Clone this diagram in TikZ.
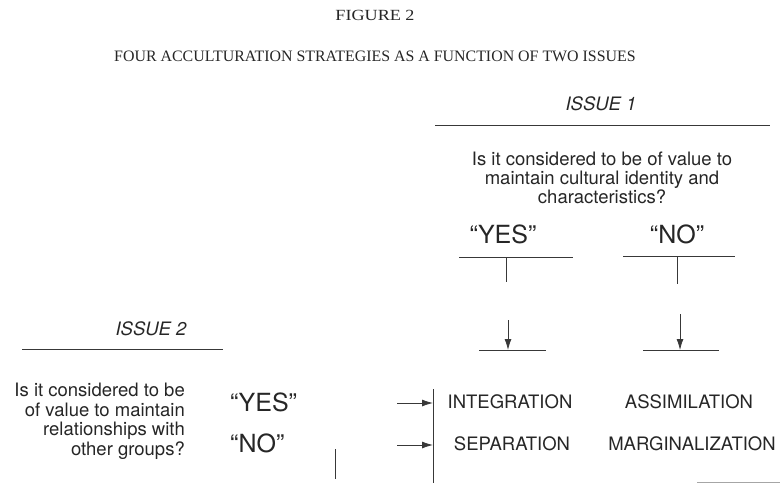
\documentclass[tikz,border=0pt]{standalone}
\usepackage{fontspec}
\setmainfont{TeX Gyre Heros}
\newfontfamily\titlefont{Liberation Serif}
\newfontfamily\figfont[FakeStretch=1.17]{Liberation Serif}
\usetikzlibrary{arrows.meta}
\begin{document}
\begin{tikzpicture}[x=1pt,y=1pt,
  lbl/.style={inner sep=0pt, anchor=base, text=black!85},
  body/.style={lbl, font=\fontsize{18.5}{19.5}\selectfont},
  big/.style={lbl, font=\fontsize{25}{28}\selectfont},
  ttl/.style={lbl, font=\titlefont\fontsize{15.9}{18}\selectfont},
  rule/.style={line width=0.8pt, draw=black!78},
  arr/.style={rule, -{Latex[length=11pt,width=7pt]}},
]
\useasboundingbox (0,0) rectangle (782,483);
% titles
\node[lbl, font=\figfont\fontsize{15.5}{18}\selectfont] (fig) at (375,462) {FIGURE 2};
\node[ttl] (sub) at (375,421) {FOUR ACCULTURATION STRATEGIES AS A FUNCTION OF TWO ISSUES};
% issue 1
\node[body, font=\itshape\fontsize{18.5}{19}\selectfont] (iss1) at (601,372) {ISSUE 1};
\coordinate (i1a) at (435,358); \coordinate (i1b) at (770,358);
\draw[rule] (i1a) -- (i1b);
\node[body, anchor=north, align=center, font=\fontsize{18.5}{19}\selectfont] (q1) at (602,331)
  {Is it considered to be of value to\\maintain cultural identity and\\characteristics?};
\node[big] (yes1) at (503,240) {``YES''};
\node[big] (no1) at (677,240) {``NO''};
% YES column
\coordinate (ya) at (459,226); \coordinate (yb) at (573,226);
\draw[rule] (ya) -- (yb);
\coordinate (ys0) at (506,226); \coordinate (ys1) at (506,201);
\draw[rule] (ys0) -- (ys1);
\coordinate (yt) at (508,163); \coordinate (yla) at (479,133); \coordinate (ylb) at (546,133);
\coordinate (ylm) at (508,133);
\draw[rule] (yla) -- (ylb);
\draw[arr] (yt) -- (ylm);
% NO column
\coordinate (na) at (623,227); \coordinate (nb) at (735,227);
\draw[rule] (na) -- (nb);
\coordinate (ns0) at (677,227); \coordinate (ns1) at (677,199);
\draw[rule] (ns0) -- (ns1);
\coordinate (nt) at (680,169); \coordinate (nla) at (643,133); \coordinate (nlb) at (719,133);
\coordinate (nlm) at (680,133);
\draw[rule] (nla) -- (nlb);
\draw[arr] (nt) -- (nlm);
% issue 2
\node[body, font=\itshape\fontsize{18.5}{19}\selectfont] (iss2) at (151,148) {ISSUE 2};
\coordinate (i2a) at (22,134); \coordinate (i2b) at (223,134);
\draw[rule] (i2a) -- (i2b);
\node[body, anchor=north east, align=right] (q2) at (185,100)
  {Is it considered to be\\of value to maintain\\relationships with\\other groups?};
\node[big, anchor=base west] (yes2) at (230,72) {``YES''};
\node[big, anchor=base west] (no2) at (230,31) {``NO''};
\coordinate (sv0) at (335,34); \coordinate (sv1) at (335,4);
\draw[rule] (sv0) -- (sv1);
% bracket and arrows
\coordinate (vb0) at (433,94); \coordinate (vb1) at (433,0);
\draw[rule] (vb0) -- (vb1);
\coordinate (ay0) at (397,80); \coordinate (ay1) at (433,80);
\coordinate (an0) at (397,38); \coordinate (an1) at (433,38);
\draw[arr] (ay0) -- (ay1);
\draw[arr] (an0) -- (an1);
% outcomes
\node[body] (integ) at (510,75) {INTEGRATION};
\node[body] (assim) at (689,75) {ASSIMILATION};
\node[body] (separ) at (512,33) {SEPARATION};
\node[body] (margin) at (692,33) {MARGINALIZATION};
% faint edge line
\coordinate (fe0) at (697,1); \coordinate (fe1) at (780,1);
\draw[line width=0.8pt, draw=black!35] (fe0) -- (fe1);
\end{tikzpicture}
\end{document}
